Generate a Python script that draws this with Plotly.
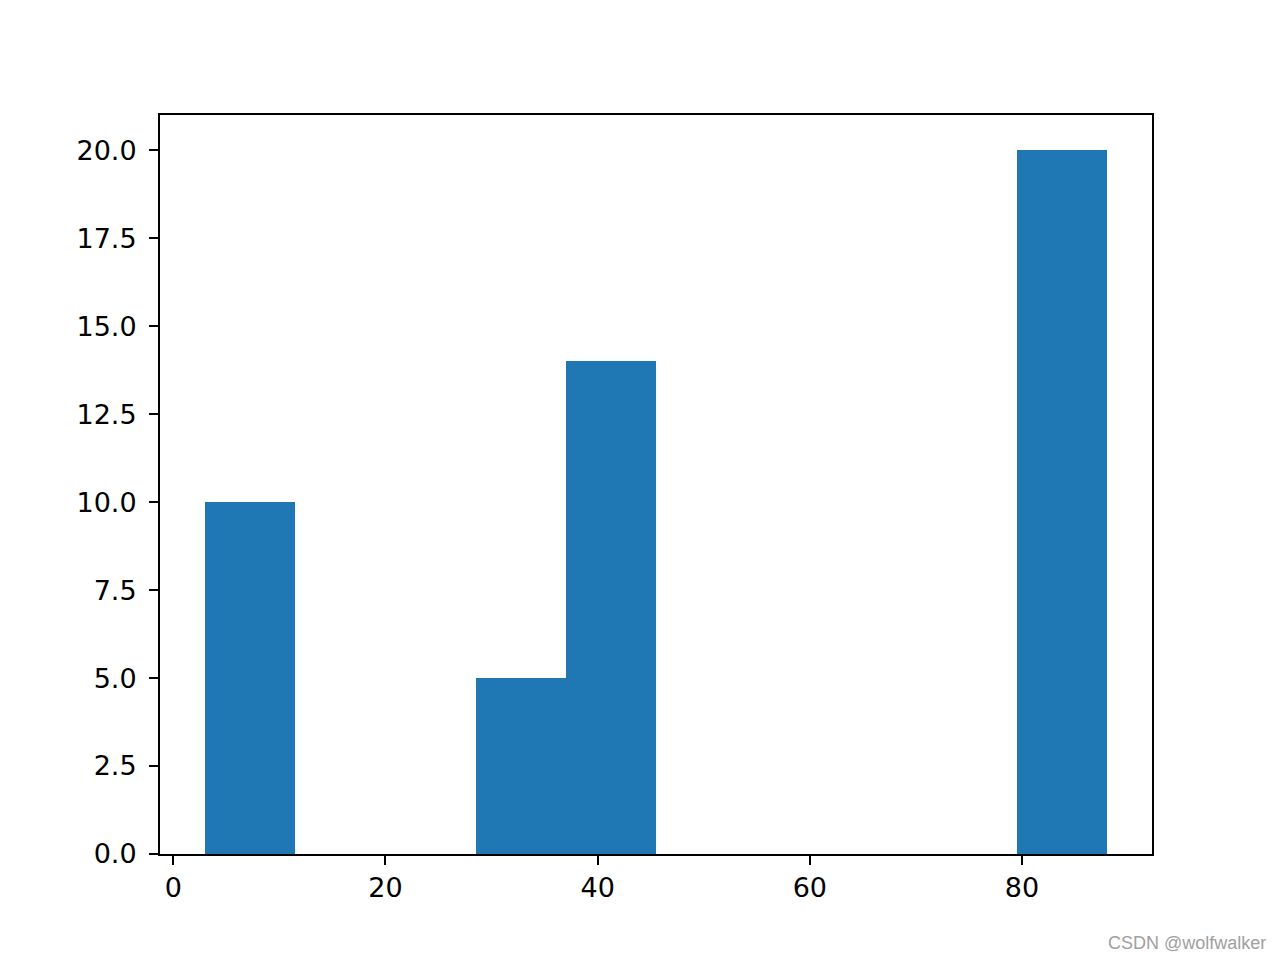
import plotly.graph_objects as go

bin_edges = [3.0, 11.5, 20.0, 28.5, 37.0, 45.5, 54.0, 62.5, 71.0, 79.5, 88.0]
counts = [10, 0, 0, 5, 14, 0, 0, 0, 0, 20]
x_ticks = [0, 20, 40, 60, 80]
y_ticks = [0.0, 2.5, 5.0, 7.5, 10.0, 12.5, 15.0, 17.5, 20.0]
y_tick_labels = ["%.1f" % v for v in y_ticks]
watermark = "CSDN @wolfwalker"

centers = [(a + b) / 2 for a, b in zip(bin_edges[:-1], bin_edges[1:])]
widths = [b - a for a, b in zip(bin_edges[:-1], bin_edges[1:])]

span = bin_edges[-1] - bin_edges[0]
xr = [bin_edges[0] - 0.05 * span, bin_edges[-1] + 0.05 * span]
yr = [0, max(counts) * 1.05]

fig = go.Figure(go.Bar(x=centers, y=counts, width=widths,
                       marker=dict(color="#1f77b4", line=dict(width=0))))

axis_common = dict(showline=True, linecolor="black", linewidth=2, mirror=True,
                   ticks="outside", ticklen=9, tickwidth=2, tickcolor="black",
                   showgrid=False, zeroline=False,
                   tickfont=dict(family="DejaVu Sans", size=27, color="black"))

fig.update_layout(
    width=1280, height=960,
    margin=dict(l=152, r=136, t=107, b=114, autoexpand=False),
    plot_bgcolor="white", paper_bgcolor="white",
    showlegend=False, bargap=0,
    xaxis=dict(range=xr, tickvals=x_ticks, ticklabelstandoff=0, **axis_common),
    yaxis=dict(range=yr, tickvals=y_ticks, ticktext=y_tick_labels,
               ticklabelstandoff=7, **axis_common),
    annotations=[dict(text=watermark, xref="paper", yref="paper",
                      x=1.117, y=-0.12, xanchor="right", yanchor="middle",
                      showarrow=False,
                      font=dict(family="Liberation Sans", size=18, color="#a0a0a0"))],
)

fig.write_html("out.html")
